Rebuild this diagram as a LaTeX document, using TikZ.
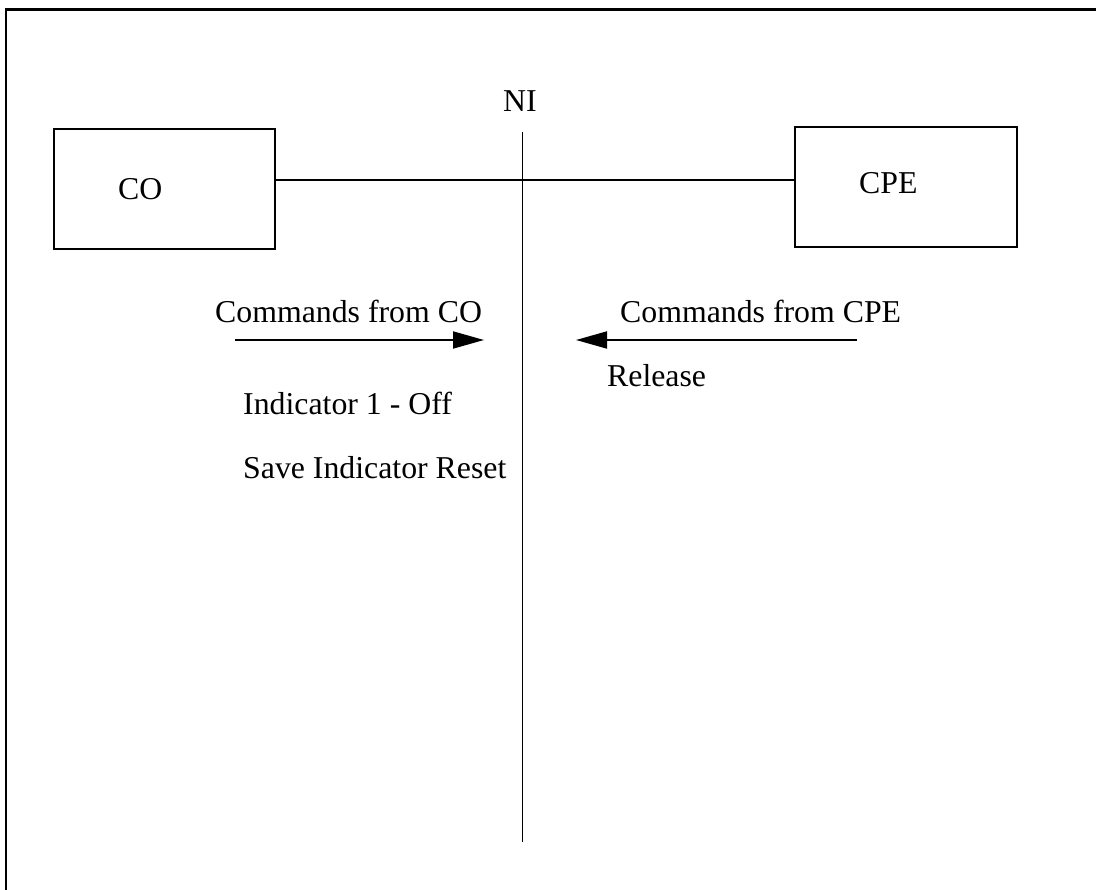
\documentclass[tikz,border=0pt]{standalone}
\usepackage{fontspec}
\setmainfont{Liberation Serif}
\usetikzlibrary{arrows.meta}
\begin{document}
\begin{tikzpicture}[x=1pt,y=-1pt,
  txt/.style={inner sep=0pt,anchor=base west,font=\fontsize{31.8}{38}\selectfont},
  unit/.style={draw,line width=1.8pt,inner sep=0pt},
  wire/.style={line width=1.8pt},
  cmd/.style={line width=1.8pt,-{Triangle[length=31pt,width=17pt]}}]
  \useasboundingbox (0,0) rectangle (1096,890);
  % frame (top and left edges)
  \draw[line width=2.2pt] (6,890) -- (6,9.5) -- (1096,9.5);
  % equipment boxes
  \node[unit,minimum width=221pt,minimum height=120pt] (co) at (164.5,189) {};
  \node[unit,minimum width=222pt,minimum height=120pt] (cpe) at (906,187) {};
  \node[txt] (colbl) at (118,200) {CO};
  \node[txt] (cpelbl) at (859,194) {CPE};
  % network interface
  \node[txt] (ni) at (503,112) {NI};
  \coordinate (niTop) at (522.5,132);
  \coordinate (niBot) at (522.5,842);
  \coordinate (cross) at (522.5,180);
  \draw[wire] (niTop) -- (niBot);
  \draw[wire] (co.east |- cross) -- (cpe.west |- cross);
  % commands
  \node[txt] (fromco) at (215,323) {Commands from CO};
  \node[txt] (fromcpe) at (620,323) {Commands from CPE};
  \coordinate (coA) at (235,340);
  \coordinate (coB) at (484,340);
  \coordinate (cpeA) at (857,340);
  \coordinate (cpeB) at (576,340);
  \draw[cmd] (coA) -- (coB);
  \draw[cmd] (cpeA) -- (cpeB);
  \node[txt] (ind) at (243,415) {Indicator 1 - Off};
  \node[txt] (save) at (243,479) {Save Indicator Reset};
  \node[txt] (rel) at (607,387) {Release};
\end{tikzpicture}
\end{document}
